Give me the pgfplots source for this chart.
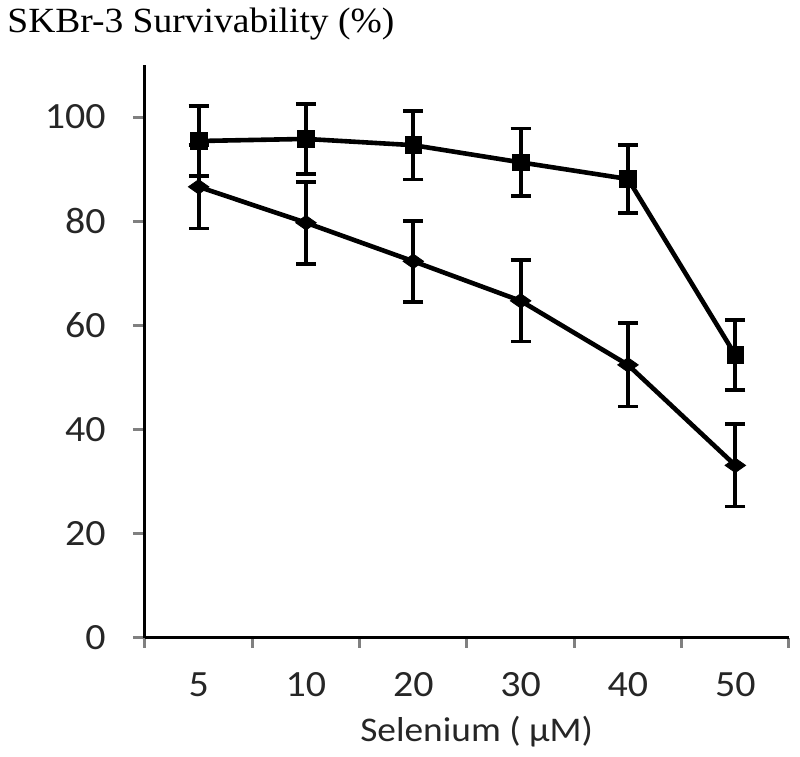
\documentclass[border=0pt]{standalone}
\usepackage{pgfplots}
\pgfplotsset{compat=1.18}
\usepackage{fontspec}
\setmainfont{Liberation Serif}[FakeStretch=1.06]
\newfontfamily\carlito{Carlito}[FakeStretch=1.08]
\begin{document}
\begin{tikzpicture}
\useasboundingbox (0,0) rectangle (400pt,378.5pt);
\begin{axis}[
  at={(72.5pt,59.65pt)}, anchor=south west,
  scale only axis, width=322pt, height=286.35pt,
  xmin=-0.5, xmax=5.5, ymin=0, ymax=110,
  axis lines=left, axis line style={-, line width=1.5pt},
  xtick={0,1,2,3,4,5},
  xticklabels={5,10,20,30,40,50},
  minor xtick={-0.5,0.5,1.5,2.5,3.5,4.5,5.5},
  ytick={0,20,40,60,80,100},
  tick align=outside,
  major x tick style={draw=none},
  x tick style={line width=1.5pt},
  y tick style={line width=1.5pt},
  minor tick length=5pt,
  major tick length=6pt,
  /pgf/number format/assume math mode=true,
  ticklabel style={font=\carlito\fontsize{18.5}{20}\selectfont, text=black!85},
  yticklabel style={anchor=east, inner sep=0pt, xshift=-13.5pt},
  xticklabel style={anchor=base, inner sep=0pt, yshift=-23.5pt},
  xlabel={Selenium ( μM)},
  xlabel style={font=\carlito\fontsize{17.3}{20}\selectfont, text=black!85, at={(axis description cs:0.515,0)}, anchor=base, inner sep=0pt, yshift=-52pt},
  clip=false,
]
\addplot[black, line width=2.3pt, mark=square*, mark size=4.2pt, mark options={solid, line width=0.4pt},
  error bars/.cd, y dir=both, y explicit,
  error bar style={line width=1.9pt},
  error mark options={rotate=90, mark size=5pt, line width=1.9pt}]
  table[x=x, y=y, y error=e] {
  x y e
  0 95.4 6.7
  1 95.8 6.7
  2 94.6 6.6
  3 91.3 6.5
  4 88.1 6.5
  5 54.3 6.7
};
\addplot[black, line width=2.3pt, mark=diamond*, mark size=3.6pt, mark options={solid, line width=0.4pt, xscale=1.9},
  error bars/.cd, y dir=both, y explicit,
  error bar style={line width=1.9pt},
  error mark options={rotate=90, mark size=5pt, line width=1.9pt}]
  table[x=x, y=y, y error=e] {
  x y e
  0 86.6 8.0
  1 79.7 7.9
  2 72.3 7.8
  3 64.7 7.8
  4 52.4 8.0
  5 33.1 7.9
};
\end{axis}
\node[anchor=base west, inner sep=0pt, font=\fontsize{17.7}{20}\selectfont] at (3.5pt,362pt) {SKBr-3 Survivability (\%)};
\end{tikzpicture}
\end{document}
